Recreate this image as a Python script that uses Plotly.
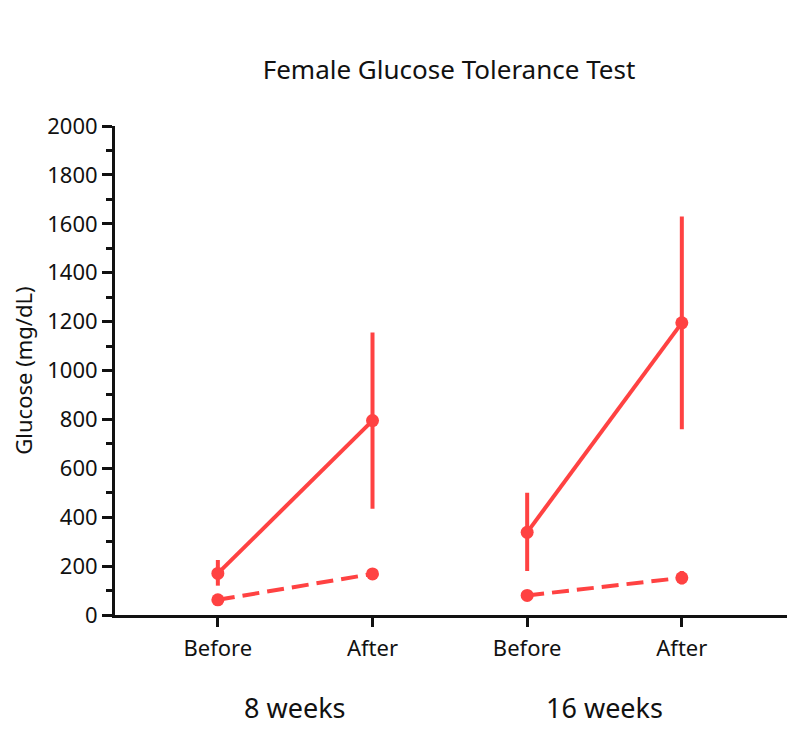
import plotly.graph_objects as go

# Data
groups = ["8 weeks", "16 weeks"]
timepoints = ["Before", "After"]
x_pos = [1, 2, 3, 4]
tick_labels = ["Before", "After", "Before", "After"]

# solid series (per group: before, after)
solid_8_mean = [170, 795]
solid_8_lo = [120, 435]
solid_8_hi = [225, 1155]
solid_16_mean = [338, 1195]
solid_16_lo = [180, 760]
solid_16_hi = [500, 1630]

# dashed series
dash_8_mean = [62, 168]
dash_8_lo = [55, 145]
dash_8_hi = [70, 192]
dash_16_mean = [80, 152]
dash_16_lo = [72, 125]
dash_16_hi = [88, 180]

RED = "#FF4242"
FONT = "Noto Sans, Open Sans, sans-serif"

fig = go.Figure()

def add_series(xs, mean, lo, hi, dash):
    fig.add_trace(go.Scatter(
        x=xs, y=mean,
        mode="lines+markers",
        line=dict(color=RED, width=4, dash=dash),
        marker=dict(color=RED, size=13),
        error_y=dict(type="data", symmetric=False,
                     array=[h - m for h, m in zip(hi, mean)],
                     arrayminus=[m - l for m, l in zip(mean, lo)],
                     color=RED, thickness=4, width=0),
        showlegend=False, hoverinfo="skip",
    ))

add_series(x_pos[0:2], solid_8_mean, solid_8_lo, solid_8_hi, "solid")
add_series(x_pos[2:4], solid_16_mean, solid_16_lo, solid_16_hi, "solid")
add_series(x_pos[0:2], dash_8_mean, dash_8_lo, dash_8_hi, "17px,8px")
add_series(x_pos[2:4], dash_16_mean, dash_16_lo, dash_16_hi, "17px,8px")

for i, g in enumerate(groups):
    fig.add_annotation(x=(x_pos[2 * i] + x_pos[2 * i + 1]) / 2, xref="x",
                       y=-(699 - 607) / 489, yref="paper", text=g, showarrow=False,
                       font=dict(family=FONT, size=27, color="#111"),
                       yanchor="middle")

fig.update_layout(
    width=800, height=755,
    paper_bgcolor="white", plot_bgcolor="white",
    margin=dict(l=107, r=21, t=118, b=148),
    font=dict(family=FONT, color="#111"),
    title=dict(text="Female Glucose Tolerance Test", x=(449 - 8) / 800, xanchor="center",
               y=1 - 62 / 755, yanchor="middle",
               font=dict(family=FONT, size=26, color="#111")),
    xaxis=dict(range=[0.335, 4.68], tickvals=x_pos, ticktext=tick_labels,
               showgrid=False, zeroline=False, showline=True,
               linecolor="#111", linewidth=3,
               ticks="outside", ticklen=9, tickwidth=3, tickcolor="#111",
               ticklabelstandoff=3,
               tickfont=dict(family=FONT, size=22, color="#111")),
    yaxis=dict(range=[0, 2000], tickvals=list(range(0, 2001, 200)),
               showgrid=False, zeroline=False, showline=True,
               linecolor="#111", linewidth=3,
               ticks="outside", ticklen=10, tickwidth=2.5, tickcolor="#111",
               tickfont=dict(family=FONT, size=22, color="#111"),
               minor=dict(dtick=100, ticks="outside", ticklen=6, tickwidth=2.5,
                          tickcolor="#111", showgrid=False),
               title=dict(text="Glucose (mg/dL)",
                          font=dict(family=FONT, size=22, color="#111"),
                          standoff=9)),
)

fig.write_html("out.html")
